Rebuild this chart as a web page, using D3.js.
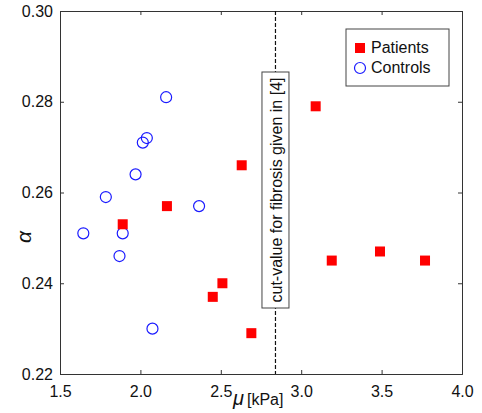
<!DOCTYPE html>
<html>
<head>
<meta charset="utf-8">
<script src="https://cdn.jsdelivr.net/npm/d3@7"></script>
<style>
  body { margin: 0; background: #fff; }
  text { font-family: "Liberation Sans", Arial, sans-serif; }
</style>
</head>
<body>
<div id="chart"></div>
<script>
// patients (red squares)
const patientMu = [1.89, 2.165, 2.63, 2.45, 2.51, 2.69, 3.09, 3.19, 3.49, 3.77]
const patientAlpha = [0.253, 0.257, 0.266, 0.237, 0.240, 0.229, 0.279, 0.245, 0.247, 0.245]

// controls (blue circles)
const controlMu = [2.16, 2.04, 2.015, 1.97, 1.785, 2.365, 1.645, 1.89, 1.87, 2.075]
const controlAlpha = [0.281, 0.272, 0.271, 0.264, 0.259, 0.257, 0.251, 0.251, 0.246, 0.230]

const xTicks = [1.5, 2.0, 2.5, 3.0, 3.5, 4.0]
const yTicks = [0.22, 0.24, 0.26, 0.28, 0.30]
const cutValue = 2.84
const cutLabel = 'cut-value for fibrosis given in [4]'

const margin = { left: 60, right: 20, top: 11, bottom: 39 }
const width = 482 - margin.left - margin.right
const height = 413 - margin.top - margin.bottom

const svg = d3.select('#chart')
  .append('svg')
  .attr('width', 482)
  .attr('height', 413)

const g = svg.append('g')
  .attr('transform', `translate(${margin.left}, ${margin.top})`)

const x = d3.scaleLinear().domain([1.5, 4.0]).range([0, width])
const y = d3.scaleLinear().domain([0.22, 0.30]).range([height, 0])

const axisColor = '#333'

// axes with inward ticks on all four sides
const xAxisCall = d3.axisBottom(x).tickValues(xTicks).tickFormat(d3.format('.1f')).tickSize(-4).tickPadding(12)
const yAxisCall = d3.axisLeft(y).tickValues(yTicks).tickFormat(d3.format('.2f')).tickSize(-4).tickPadding(7)

g.append('g').attr('transform', `translate(0, ${height})`).call(xAxisCall)
g.append('g').call(yAxisCall)
g.append('g').call(d3.axisTop(x).tickValues(xTicks).tickFormat('').tickSize(-4))
g.append('g').attr('transform', `translate(${width}, 0)`).call(d3.axisRight(y).tickValues(yTicks).tickFormat('').tickSize(-4))

g.selectAll('.domain').attr('stroke', axisColor)
g.selectAll('.tick line').attr('stroke', axisColor)
g.selectAll('.tick text').attr('font-size', '16px').attr('fill', '#111')
  .attr('font-family', '"Liberation Sans", Arial, sans-serif')

// cut-value dashed line
g.append('line')
  .attr('x1', x(cutValue)).attr('x2', x(cutValue))
  .attr('y1', 0).attr('y2', height)
  .attr('stroke', '#111')
  .attr('stroke-width', 1.2)
  .attr('stroke-dasharray', '4,2')

// annotation box
const boxCy = 179
const boxW = 27
const boxH = 236
g.append('rect')
  .attr('x', x(cutValue) - boxW / 2)
  .attr('y', boxCy - boxH / 2)
  .attr('width', boxW)
  .attr('height', boxH)
  .attr('fill', '#fff')
  .attr('stroke', '#444')
g.append('text')
  .attr('transform', `translate(${x(cutValue) + 7}, ${boxCy}) rotate(-90)`)
  .attr('text-anchor', 'middle')
  .attr('font-size', '16px')
  .attr('fill', '#111')
  .text(cutLabel)

// controls
g.selectAll('circle.control')
  .data(controlMu.map((m, i) => ({ mu: m, alpha: controlAlpha[i] })))
  .enter()
  .append('circle')
    .attr('class', 'control')
    .attr('cx', d => x(d.mu))
    .attr('cy', d => y(d.alpha))
    .attr('r', 5.5)
    .attr('fill', 'none')
    .attr('stroke', '#1a1aff')
    .attr('stroke-width', 1.2)

// patients
const sq = 10
g.selectAll('rect.patient')
  .data(patientMu.map((m, i) => ({ mu: m, alpha: patientAlpha[i] })))
  .enter()
  .append('rect')
    .attr('class', 'patient')
    .attr('x', d => x(d.mu) - sq / 2)
    .attr('y', d => y(d.alpha) - sq / 2)
    .attr('width', sq)
    .attr('height', sq)
    .attr('fill', '#ff0000')

// legend
const legend = svg.append('g').attr('transform', 'translate(346, 29)')
legend.append('rect')
  .attr('width', 103).attr('height', 57)
  .attr('fill', '#fff').attr('stroke', '#444')
legend.append('rect')
  .attr('x', 9).attr('y', 14).attr('width', 10).attr('height', 10)
  .attr('fill', '#ff0000')
legend.append('circle')
  .attr('cx', 14).attr('cy', 39).attr('r', 5.5)
  .attr('fill', 'none').attr('stroke', '#1a1aff').attr('stroke-width', 1.2)
legend.append('text').attr('x', 25).attr('y', 24).attr('font-size', '16px').attr('fill', '#111').text('Patients')
legend.append('text').attr('x', 25).attr('y', 44).attr('font-size', '16px').attr('fill', '#111').text('Controls')

// x axis label
const xLabel = svg.append('text')
  .attr('x', 233)
  .attr('y', 405)
  .attr('fill', '#111')
xLabel.append('tspan').attr('font-size', '20px').attr('font-style', 'italic').text('μ')
xLabel.append('tspan').attr('font-size', '16px').attr('dx', 3).text('[kPa]')

// y axis label
svg.append('text')
  .attr('transform', 'translate(31, 237) rotate(-90)')
  .attr('text-anchor', 'middle')
  .attr('font-size', '21px')
  .attr('font-style', 'italic')
  .attr('fill', '#111')
  .text('α')
</script>
</body>
</html>
